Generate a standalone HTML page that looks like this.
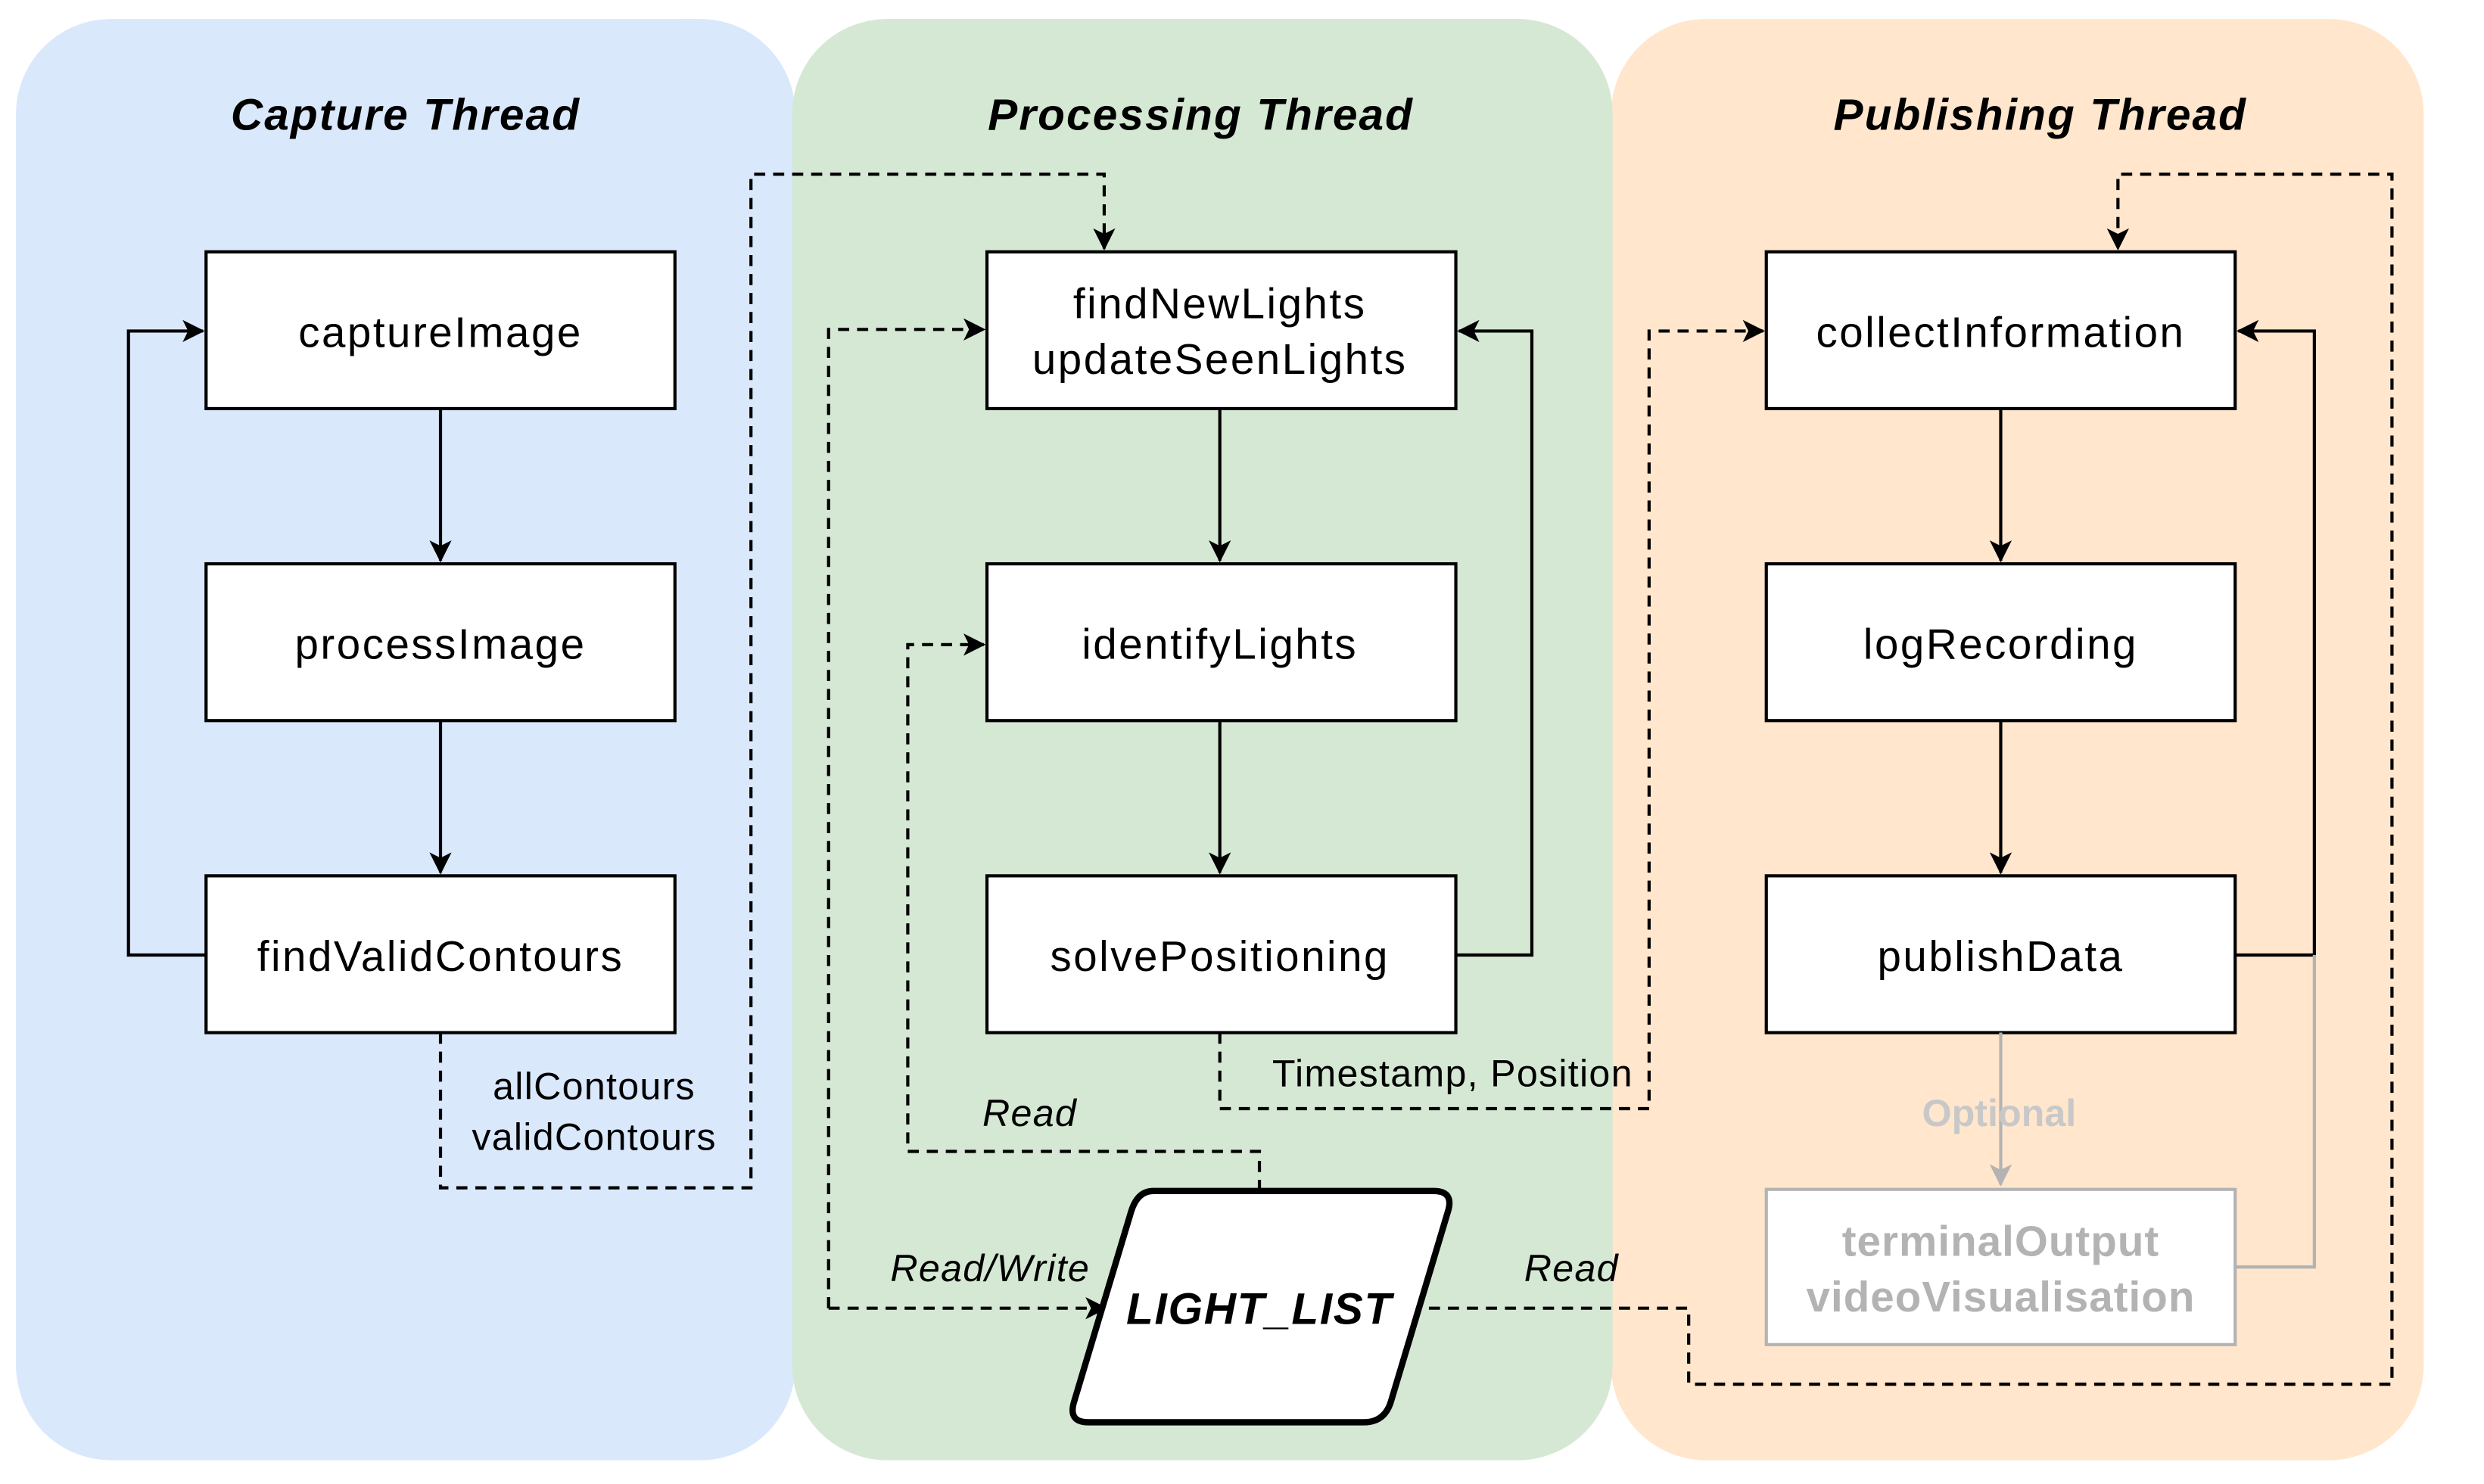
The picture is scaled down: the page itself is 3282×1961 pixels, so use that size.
<!DOCTYPE html>
<html><head><meta charset="utf-8"><style>
html,body{margin:0;padding:0;background:#fff;}
svg{display:block;}
text{font-family:"Liberation Sans",Arial,sans-serif;}
</style></head><body>
<svg width="3282" height="1961" viewBox="0 0 1568 937" xmlns="http://www.w3.org/2000/svg">
<defs>
<marker id="a" viewBox="0 0 12 12" refX="11" refY="6" markerWidth="14" markerHeight="14" markerUnits="userSpaceOnUse" orient="auto"><path d="M0,0 L12,6 L0,12 L3,6 Z" fill="#000"/></marker>
<marker id="g" viewBox="0 0 12 12" refX="11" refY="6" markerWidth="14" markerHeight="14" markerUnits="userSpaceOnUse" orient="auto"><path d="M0,0 L12,6 L0,12 L3,6 Z" fill="#b3b3b3"/></marker>
</defs>
<rect x="10" y="12" width="492" height="910" rx="60" fill="#dae8fc"/>
<rect x="1017" y="12" width="513" height="910" rx="60" fill="#ffe6cc"/>
<rect x="500" y="12" width="518" height="910" rx="60" fill="#d5e8d4"/>

<g font-size="28" font-weight="bold" font-style="italic" text-anchor="middle" letter-spacing="1">
<text x="256" y="82">Capture Thread</text>
<text x="758" y="82">Processing Thread</text>
<text x="1288" y="82">Publishing Thread</text>
</g>

<g fill="#fff" stroke="#000" stroke-width="2">
<rect x="130" y="159" width="296" height="99"/>
<rect x="130" y="356" width="296" height="99"/>
<rect x="130" y="553" width="296" height="99"/>
<rect x="623" y="159" width="296" height="99"/>
<rect x="623" y="356" width="296" height="99"/>
<rect x="623" y="553" width="296" height="99"/>
<rect x="1115" y="159" width="296" height="99"/>
<rect x="1115" y="356" width="296" height="99"/>
<rect x="1115" y="553" width="296" height="99"/>
</g>
<rect x="1115" y="751" width="296" height="98" fill="#fff" stroke="#b3b3b3" stroke-width="2"/>

<g font-size="27" text-anchor="middle" letter-spacing="1.2">
<text x="278" y="219">captureImage</text>
<text x="278" y="416">processImage</text>
<text x="278" y="613">findValidContours</text>
<text x="770" y="201">findNewLights</text>
<text x="770" y="236">updateSeenLights</text>
<text x="770" y="416">identifyLights</text>
<text x="770" y="613">solvePositioning</text>
<text x="1263" y="219">collectInformation</text>
<text x="1263" y="416">logRecording</text>
<text x="1263" y="613">publishData</text>
<text x="1263" y="793" fill="#b3b3b3" font-weight="bold" letter-spacing="0.5">terminalOutput</text>
<text x="1263" y="828" fill="#b3b3b3" font-weight="bold" letter-spacing="0.5">videoVisualisation</text>
</g>

<g stroke="#000" stroke-width="2" fill="none">
<path d="M278,258 V354" marker-end="url(#a)"/>
<path d="M278,455 V551" marker-end="url(#a)"/>
<path d="M130,603 H81 V209 H128" marker-end="url(#a)"/>
<path d="M770,258 V354" marker-end="url(#a)"/>
<path d="M770,455 V551" marker-end="url(#a)"/>
<path d="M919,603 H967 V209 H921" marker-end="url(#a)"/>
<path d="M1263,258 V354" marker-end="url(#a)"/>
<path d="M1263,455 V551" marker-end="url(#a)"/>
<path d="M1411,603 H1461 V209 H1413" marker-end="url(#a)"/>
</g>
<g stroke="#b3b3b3" stroke-width="2" fill="none">
<path d="M1263,652 V748" marker-end="url(#g)"/>
<path d="M1411,800 H1461 V603"/>
</g>
<text x="1262" y="711" font-size="24" font-weight="bold" fill="#c8c8c8" text-anchor="middle">Optional</text>

<g stroke="#000" stroke-width="2" fill="none" stroke-dasharray="7,5">
<path d="M278,652 V750 H474 V110 H697 V157" marker-end="url(#a)"/>
<path d="M770,652 V700 H1041 V209 H1113" marker-end="url(#a)"/>
<path d="M795,752 V727 H573 V407 H621" marker-end="url(#a)"/>
<path d="M523,826 V208 H621" marker-end="url(#a)"/>
<path d="M523,826 H698" marker-end="url(#a)"/>
<path d="M890,826 H1066 V874 H1510 V110 H1337 V157" marker-end="url(#a)"/>
</g>

<path d="M728,752 H905 Q918,752 914,765 L878,885 Q874,898 861,898 H687 Q674,898 678,885 L714,765 Q718,752 728,752 Z" fill="#fff" stroke="#000" stroke-width="4"/>
<text x="795" y="836" font-size="28" font-weight="bold" font-style="italic" text-anchor="middle" letter-spacing="0.8">LIGHT_LIST</text>

<g font-size="24" text-anchor="middle" letter-spacing="0.6">
<text x="375" y="694">allContours</text>
<text x="375" y="726">validContours</text>
<text x="917" y="686">Timestamp, Position</text>
<text x="650" y="711" font-style="italic">Read</text>
<text x="625" y="809" font-style="italic">Read/Write</text>
<text x="992" y="809" font-style="italic">Read</text>
</g>
</svg>
</body></html>
